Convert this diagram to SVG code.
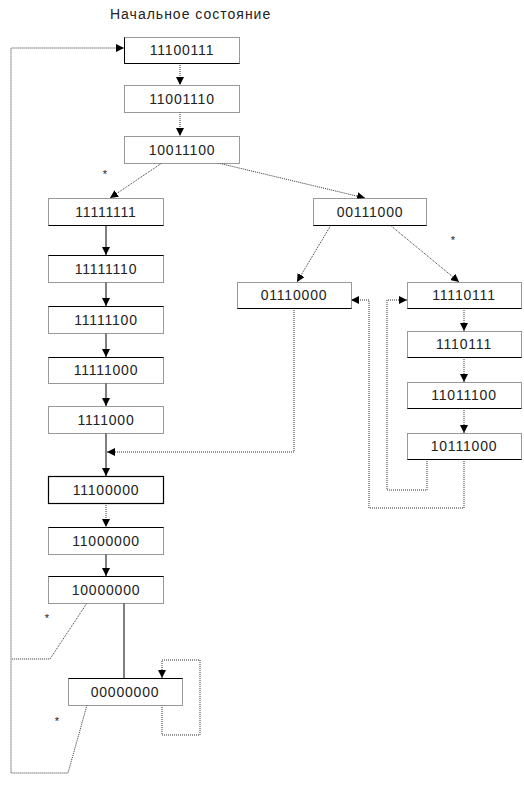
<svg xmlns="http://www.w3.org/2000/svg" width="524" height="785" viewBox="0 0 524 785">
<style>
.box{fill:#fff;stroke:#333;stroke-width:1;stroke-dasharray:1 1}
.bold{fill:#fff;stroke:#000;stroke-width:1.2}
.edge{stroke:#000;stroke-width:1;fill:none}
.lbl{font-family:"Liberation Sans",Arial,sans-serif;font-size:14px;letter-spacing:0.8px;fill:#222;text-anchor:middle}
.dot{stroke:#333;stroke-width:1;stroke-dasharray:1 1;fill:none}
.sol{stroke:#000;stroke-width:1;fill:none}
.star{font-family:"Liberation Sans",Arial,sans-serif;font-size:11px;fill:#222;text-anchor:middle}
.title{font-family:"Liberation Sans",Arial,sans-serif;font-size:14px;letter-spacing:1px;fill:#222}
</style>
<defs>
<marker id="ah" markerUnits="userSpaceOnUse" markerWidth="8" markerHeight="8" refX="8" refY="4" orient="auto">
<path d="M0,0 L8,4 L0,8 z" fill="#000"/>
</marker>
</defs>
<text class="title" x="110" y="19">Начальное состояние</text>
<g id="connectors">
<line class="dot" x1="180" y1="63" x2="180" y2="85" marker-end="url(#ah)"/>
<line class="dot" x1="180" y1="112" x2="180" y2="136" marker-end="url(#ah)"/>
<line class="dot" x1="162" y1="163" x2="110" y2="198" marker-end="url(#ah)"/>
<line class="dot" x1="218" y1="163" x2="365" y2="198" marker-end="url(#ah)"/>
<line class="sol" x1="106" y1="225" x2="106" y2="255" marker-end="url(#ah)"/>
<line class="sol" x1="106" y1="282" x2="106" y2="306" marker-end="url(#ah)"/>
<line class="sol" x1="106" y1="333" x2="106" y2="357" marker-end="url(#ah)"/>
<line class="sol" x1="106" y1="383" x2="106" y2="406" marker-end="url(#ah)"/>
<line class="sol" x1="106" y1="433" x2="106" y2="476" marker-end="url(#ah)"/>
<line class="dot" x1="106" y1="503" x2="106" y2="527" marker-end="url(#ah)"/>
<line class="sol" x1="106" y1="554" x2="106" y2="576" marker-end="url(#ah)"/>
<line class="sol" x1="124" y1="603" x2="124" y2="678"/>
<polyline class="dot" points="87,603 50,659 11,659"/>
<polyline class="dot" points="87,705 68,773 11,773 11,48 124,48" marker-end="url(#ah)"/>
<polyline class="dot" points="162,705 162,735 200,735 200,660 162,660 162,678" marker-end="url(#ah)"/>
<line class="dot" x1="331" y1="225" x2="297" y2="282" marker-end="url(#ah)"/>
<line class="dot" x1="390" y1="225" x2="459" y2="282" marker-end="url(#ah)"/>
<line class="dot" x1="464" y1="308" x2="464" y2="331" marker-end="url(#ah)"/>
<line class="dot" x1="464" y1="357" x2="464" y2="382" marker-end="url(#ah)"/>
<line class="dot" x1="464" y1="408" x2="464" y2="433" marker-end="url(#ah)"/>
<polyline class="dot" points="294,308 294,452 107,452" marker-end="url(#ah)"/>
<polyline class="dot" points="427,459 427,490 387,490 387,300 407,300" marker-end="url(#ah)"/>
<polyline class="dot" points="464,459 464,508 369,508 369,300 351,300" marker-end="url(#ah)"/>
<text class="star" x="105" y="178">*</text>
<text class="star" x="453" y="244">*</text>
<text class="star" x="47" y="622">*</text>
<text class="star" x="57" y="725">*</text>
</g>
<g id="n1"><rect class="box" x="124.5" y="37.5" width="115" height="26"/><path class="edge" d="M124.5,37.5 V63.5 H239.5"/><text class="lbl" x="182" y="55">11100111</text></g>
<g id="n2"><rect class="box" x="124.5" y="85.5" width="115" height="27"/><text class="lbl" x="182" y="104">11001110</text></g>
<g id="n3"><rect class="box" x="124.5" y="136.5" width="115" height="27"/><text class="lbl" x="182" y="155">10011100</text></g>
<g id="l1"><rect class="box" x="48.5" y="198.5" width="115" height="27"/><path class="edge" d="M48.5,225.5 H163.5"/><text class="lbl" x="106" y="217">11111111</text></g>
<g id="l2"><rect class="box" x="48.5" y="255.5" width="115" height="27"/><path class="edge" d="M48.5,255.5 H163.5"/><text class="lbl" x="106" y="274">11111110</text></g>
<g id="l3"><rect class="box" x="48.5" y="306.5" width="115" height="27"/><path class="edge" d="M48.5,306.5 H163.5"/><text class="lbl" x="106" y="325">11111100</text></g>
<g id="l4"><rect class="box" x="48.5" y="357.5" width="115" height="26"/><path class="edge" d="M48.5,357.5 H163.5"/><text class="lbl" x="106" y="375">11111000</text></g>
<g id="l5"><rect class="box" x="48.5" y="406.5" width="115" height="27"/><text class="lbl" x="106" y="425">1111000</text></g>
<g id="l6"><rect class="bold" x="48.5" y="476.5" width="115" height="27"/><text class="lbl" x="106" y="495">11100000</text></g>
<g id="l7"><rect class="box" x="48.5" y="527.5" width="115" height="27"/><path class="edge" d="M48.5,527.5 H163.5"/><text class="lbl" x="106" y="546">11000000</text></g>
<g id="l8"><rect class="box" x="48.5" y="576.5" width="115" height="27"/><path class="edge" d="M48.5,576.5 H163.5"/><text class="lbl" x="106" y="595">10000000</text></g>
<g id="z"><rect class="box" x="68.5" y="678.5" width="114" height="27"/><path class="edge" d="M68.5,678.5 H182.5"/><text class="lbl" x="125" y="697">00000000</text></g>
<g id="r0"><rect class="box" x="313.5" y="198.5" width="113" height="27"/><path class="edge" d="M313.5,225.5 H426.5"/><text class="lbl" x="370" y="217">00111000</text></g>
<g id="r1"><rect class="box" x="237.5" y="282.5" width="114" height="26"/><path class="edge" d="M237.5,308.5 H351.5"/><text class="lbl" x="294" y="300">01110000</text></g>
<g id="r2"><rect class="box" x="407.5" y="282.5" width="114" height="26"/><path class="edge" d="M407.5,308.5 H521.5"/><text class="lbl" x="464" y="300">11110111</text></g>
<g id="r3"><rect class="box" x="407.5" y="331.5" width="114" height="26"/><path class="edge" d="M407.5,357.5 H521.5"/><text class="lbl" x="464" y="349">1110111</text></g>
<g id="r4"><rect class="box" x="407.5" y="382.5" width="114" height="26"/><path class="edge" d="M407.5,408.5 H521.5"/><text class="lbl" x="464" y="400">11011100</text></g>
<g id="r5"><rect class="box" x="407.5" y="433.5" width="114" height="26"/><path class="edge" d="M407.5,459.5 H521.5"/><text class="lbl" x="464" y="451">10111000</text></g>
</svg>
